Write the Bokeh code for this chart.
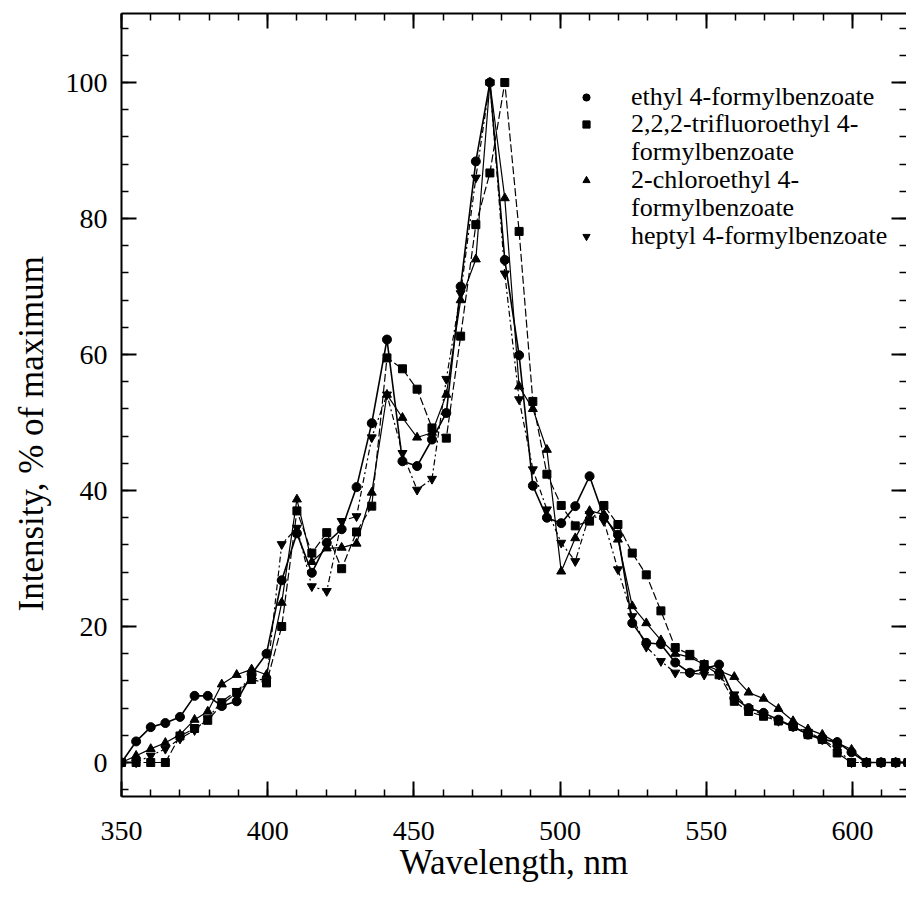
from bokeh.plotting import figure
from bokeh.models import LinearAxis, Range1d, Legend, LegendItem, SingleIntervalTicker, Title
from bokeh.embed import file_html
from bokeh.resources import INLINE

# ---- data ----
wavelength = [350, 355, 360, 365, 370, 375, 379.5, 384.3, 389.4, 394.5, 399.6, 404.8, 410, 415.1,
              420.2, 425.3, 430.4, 435.6, 440.8, 446.1, 451.1, 456.2, 461.1, 466, 471.2, 476, 481.1,
              486, 490.7, 495.5, 500.4, 505.2, 510.1, 515, 519.8, 524.7, 529.5, 534.5, 539.4, 544.4,
              549.3, 554.4, 559.6, 564.5, 569.6, 574.7, 579.7, 584.8, 589.7, 594.8, 599.7, 604.8,
              609.8, 614.8, 619]

ethyl = [0, 3.1, 5.2, 5.8, 6.7, 9.8, 9.8, 8.3, 9.0, 13.0, 16.0, 26.8, 33.7, 27.9, 32.3, 34.3, 40.5,
         49.9, 62.2, 44.3, 43.6, 47.5, 51.4, 70.0, 88.4, 100, 73.9, 59.9, 40.7, 36.0, 35.2, 37.7, 42.1,
         36.1, 33.5, 20.5, 17.6, 17.4, 14.7, 13.2, 13.8, 14.4, 9.5, 8.0, 7.3, 6.3, 5.3, 4.1, 3.4, 3.0,
         1.5, 0, 0, 0, 0]

trifluoroethyl = [0, 0, 0, 0, 3.9, 5.0, 6.2, 8.5, 10.3, 12.2, 11.7, 20.0, 37.0, 30.8, 33.8, 28.5, 33.9,
                  37.7, 59.5, 57.9, 54.9, 49.2, 47.7, 62.7, 79.1, 86.7, 100, 78.1, 53.1, 42.4, 37.8,
                  34.8, 35.5, 37.8, 35.0, 30.8, 27.6, 22.3, 16.9, 15.9, 14.4, 12.9, 9.0, 7.5, 6.8, 6.1,
                  5.3, 4.1, 3.4, 1.4, 0, 0, 0, 0, 0]

chloroethyl = [0, 1.0, 2.0, 2.9, 4.1, 6.3, 7.5, 11.5, 12.9, 13.7, 12.9, 23.5, 38.7, 29.5, 31.5, 31.6,
               32.2, 39.7, 54.1, 50.7, 47.8, 48.5, 54.1, 68.0, 74.0, 100, 83.0, 55.3, 52.0, 46.0, 28.1,
               33.0, 37.0, 36.5, 32.8, 23.0, 20.5, 18.0, 16.0, 15.5, 14.4, 13.5, 12.6, 10.3, 9.4, 7.9,
               6.1, 4.9, 4.1, 2.9, 1.9, 0, 0, 0, 0]

heptyl = [0, 0, 1.0, 2.0, 3.5, 4.75, 6.5, 9.0, 10.5, 12.5, 12.0, 32.1, 34.5, 25.9, 25.2, 35.5, 36.2,
          47.8, 54.1, 45.5, 40.1, 41.7, 56.4, 69.0, 86.0, 100, 71.9, 53.4, 43.1, 37.2, 32.3, 29.6,
          36.5, 35.5, 28.4, 21.5, 17.0, 14.9, 13.2, 13.2, 12.9, 12.9, 10.0, 8.0, 7.0, 6.1, 5.3, 4.5,
          3.4, 2.0, 0, 0, 0, 0, 0]

legend_lines = [
    ["ethyl 4-formylbenzoate"],
    ["2,2,2-trifluoroethyl 4-", "formylbenzoate"],
    ["2-chloroethyl 4-", "formylbenzoate"],
    ["heptyl 4-formylbenzoate"],
]

x_major = [350, 400, 450, 500, 550, 600]
y_major = [0, 20, 40, 60, 80, 100]
x_title = "Wavelength, nm"
y_title = "Intensity, % of maximum"

FONT = "Liberation Serif"

p = figure(frame_width=785, frame_height=783, output_backend="svg", toolbar_location=None,
           x_range=Range1d(350, 618.5), y_range=Range1d(-5.0, 110.15),
           min_border_left=121, min_border_top=13, min_border_right=0, min_border_bottom=0,
           x_axis_label=x_title)
p.grid.visible = False
p.outline_line_color = None
p.background_fill_color = "white"
p.border_fill_color = "white"


def style_axis(ax, labels=True):
    ax.axis_line_width = 2
    ax.axis_line_color = "black"
    ax.major_tick_in = 15
    ax.major_tick_out = 0
    ax.minor_tick_in = 7
    ax.minor_tick_out = 0
    ax.major_tick_line_width = 2
    ax.minor_tick_line_width = 1.5
    ax.major_tick_line_color = "black"
    ax.minor_tick_line_color = "black"
    ax.major_label_text_font = FONT
    ax.major_label_text_font_size = "28px"
    ax.major_label_text_color = "black"
    if labels:
        ax.axis_label_text_font = FONT
        ax.axis_label_text_font_size = "35px"
        ax.axis_label_text_font_style = "normal"
        ax.axis_label_text_color = "black"


p.xaxis.ticker = SingleIntervalTicker(interval=50, num_minor_ticks=5)
p.yaxis.ticker = SingleIntervalTicker(interval=20, num_minor_ticks=5)
style_axis(p.xaxis[0])
style_axis(p.yaxis[0])
p.xaxis.major_label_standoff = 25
p.yaxis.major_label_standoff = 14
p.xaxis.axis_label_standoff = 0

top_ax = LinearAxis(ticker=SingleIntervalTicker(interval=50, num_minor_ticks=5))
style_axis(top_ax, labels=False)
top_ax.major_label_overrides = {v: "" for v in x_major}
top_ax.major_label_standoff = 0
p.add_layout(top_ax, "above")

right_ax = LinearAxis(ticker=SingleIntervalTicker(interval=20, num_minor_ticks=5))
style_axis(right_ax, labels=False)
right_ax.major_label_overrides = {v: "" for v in y_major}
right_ax.major_label_standoff = 0
right_ax.axis_line_color = None
p.add_layout(right_ax, "right")

ytitle = Title(text=y_title, align="left", offset=185, standoff=20, vertical_align="top",
               text_font=FONT, text_font_size="35px", text_font_style="normal",
               text_color="black")
p.add_layout(ytitle, "left")

series = [ethyl, trifluoroethyl, chloroethyl, heptyl]
markers = ["circle", "square", "triangle", "inverted_triangle"]
dashes = ["solid", "8 3", "solid", "6 3 2 3"]
widths = [1.6, 1.2, 1.2, 1.2]
msize = [9, 8, 9, 9]

entries = []
for vals, mk, dash, lw, ms, lines in zip(series, markers, dashes, widths, msize, legend_lines):
    p.line(wavelength, vals, line_color="black", line_width=lw, line_dash=dash)
    r = p.scatter(wavelength, vals, marker=mk, size=ms, fill_color="black", line_color="black")
    entries.append((lines[0], r))
    for extra in lines[1:]:
        dummy = p.scatter(x=[], y=[], marker=mk, fill_alpha=0, line_alpha=0)
        entries.append((extra, dummy))

# one legend block per text line, stacked at the reference's line pitch
row_pitch = 27.9
for k, (label, rend) in enumerate(entries):
    lg = Legend(items=[LegendItem(label=label, renderers=[rend])],
                location=(456, round(684.5 - row_pitch * k, 1)), orientation="vertical",
                label_text_font=FONT, label_text_font_size="26px", label_text_color="black",
                label_height=28, glyph_height=18, glyph_width=18, label_standoff=36,
                spacing=0, padding=0, margin=0, border_line_color=None,
                background_fill_alpha=0)
    p.add_layout(lg, "center")

open("out.html", "w").write(file_html(p, INLINE))
